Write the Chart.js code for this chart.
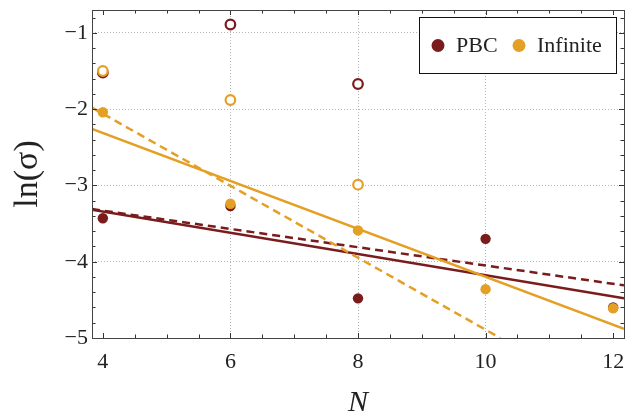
<!DOCTYPE html>
<html>
<head>
<meta charset="utf-8">
<script src="https://cdn.jsdelivr.net/npm/chart.js@4.4.1/dist/chart.umd.min.js"></script>
<style>
  html, body { margin: 0; padding: 0; background: #fff; }
  canvas { display: block; }
</style>
</head>
<body>
<canvas id="c" width="637" height="416"></canvas>
<script>
// ---- data ----
const N = [4, 6, 8, 10, 12];
const pbcFilled = [-3.43, -3.27, -4.48, -3.70, -4.60];
const infFilled = [-2.04, -3.24, -3.59, -4.36, -4.61];
const Nopen = [4, 6, 8];
const pbcOpen = [-1.52, -0.89, -1.67];
const infOpen = [-1.50, -1.88, -2.99];

// fit lines: endpoints
const fitX = [3.83, 12.17];
const pbcSolid = [-3.32, -4.48];
const pbcDashed = [-3.31, -4.31];
const infSolid = [-2.26, -4.88];
const infDashedX = [3.83, 10.23];
const infDashed = [-1.98, -5.0];

const xTicks = [4, 6, 8, 10, 12];
const yTicks = [-5, -4, -3, -2, -1];
const xRange = [3.83, 12.17];
const yRange = [-5, -0.7];

const RED = '#7a1b1c';
const ORANGE = '#e49f25';
const SERIF = '"Liberation Serif", "DejaVu Serif", serif';

const pts = (xs, ys) => xs.map((x, i) => ({x, y: ys[i]}));

const framePlugin = {
  id: 'frame',
  afterDraw(chart) {
    const {ctx, chartArea: a, scales: {x, y}} = chart;
    ctx.save();
    ctx.strokeStyle = '#333';
    ctx.lineWidth = 1;
    const majL = 5, minL = 3.5;
    ctx.beginPath();
    for (let v = 4; v <= 12.001; v += 0.5) {
      const px = Math.round(x.getPixelForValue(v)) + 0.5;
      const L = Math.abs(v - Math.round(v / 2) * 2) < 1e-6 ? majL : minL;
      ctx.moveTo(px, a.bottom); ctx.lineTo(px, a.bottom - L);
      ctx.moveTo(px, a.top); ctx.lineTo(px, a.top + L);
    }
    for (let v = -5; v <= -0.7; v += 0.2) {
      const py = Math.round(y.getPixelForValue(v)) + 0.5;
      const L = Math.abs(v - Math.round(v)) < 1e-6 ? majL : minL;
      ctx.moveTo(a.left, py); ctx.lineTo(a.left + L, py);
      ctx.moveTo(a.right, py); ctx.lineTo(a.right - L, py);
    }
    ctx.stroke();
    ctx.strokeStyle = '#444';
    ctx.strokeRect(Math.round(a.left) + 0.5, Math.round(a.top) + 0.5,
                   Math.round(a.right - a.left), Math.round(a.bottom - a.top));
    // legend
    const bx = 419.5, by = 17.5, bw = 197, bh = 56;
    ctx.fillStyle = '#fff';
    ctx.fillRect(bx, by, bw, bh);
    ctx.strokeStyle = '#111';
    ctx.strokeRect(bx, by, bw, bh);
    const cy = by + bh / 2;
    ctx.fillStyle = RED;
    ctx.beginPath(); ctx.arc(438, cy, 6.5, 0, Math.PI * 2); ctx.fill();
    ctx.fillStyle = ORANGE;
    ctx.beginPath(); ctx.arc(519, cy, 6.5, 0, Math.PI * 2); ctx.fill();
    ctx.fillStyle = '#222';
    ctx.font = '22px ' + SERIF;
    ctx.textBaseline = 'middle';
    ctx.fillText('PBC', 456, cy + 1);
    ctx.fillText('Infinite', 537, cy + 1);
    ctx.restore();
  }
};

const gridColor = (ctx, skip) => {
  const v = ctx.tick ? ctx.tick.value : null;
  return skip.includes(v) ? 'rgba(0,0,0,0)' : '#b5b5b5';
};

new Chart(document.getElementById('c'), {
  type: 'scatter',
  data: {
    datasets: [
      { label: 'Inf open', data: pts(Nopen, infOpen), backgroundColor: '#fff', borderColor: ORANGE, borderWidth: 2.2, pointRadius: 4.8 },
      { label: 'PBC open', data: pts(Nopen, pbcOpen), backgroundColor: '#fff', borderColor: RED, borderWidth: 2.2, pointRadius: 4.8 },
      { label: 'Infinite', data: pts(N, infFilled), backgroundColor: ORANGE, borderColor: ORANGE, borderWidth: 0, pointRadius: 5.2 },
      { label: 'PBC', data: pts(N, pbcFilled), backgroundColor: RED, borderColor: RED, borderWidth: 0, pointRadius: 5.2 },
      { type: 'line', data: pts(fitX, infSolid), borderColor: ORANGE, borderWidth: 2.5, pointRadius: 0, fill: false },
      { type: 'line', data: pts(infDashedX, infDashed), borderColor: ORANGE, borderWidth: 2.5, borderDash: [8, 5], pointRadius: 0, fill: false },
      { type: 'line', data: pts(fitX, pbcSolid), borderColor: RED, borderWidth: 2.5, pointRadius: 0, fill: false },
      { type: 'line', data: pts(fitX, pbcDashed), borderColor: RED, borderWidth: 2.5, borderDash: [8, 5], pointRadius: 0, fill: false }
    ]
  },
  options: {
    responsive: false,
    devicePixelRatio: 1,
    animation: false,
    layout: { padding: { left: 0, top: 10, right: 13, bottom: 0 } },
    plugins: { legend: { display: false }, tooltip: { enabled: false } },
    scales: {
      x: {
        type: 'linear', min: xRange[0], max: xRange[1],
        afterBuildTicks: s => { s.ticks = xTicks.map(v => ({value: v})); },
        afterFit: s => { s.height = 78; s.paddingLeft = 0; s.paddingRight = 0; },
        grid: { drawTicks: false, color: c => gridColor(c, [4, 12]), borderDash: [1, 2], lineWidth: 1 },
        border: { display: false, dash: [1, 2] },
        ticks: { padding: 11, color: '#222', font: { family: SERIF, size: 22 }, callback: v => String(v) },
        title: { display: true, text: 'N', color: '#222', font: { family: SERIF, size: 30, style: 'italic', lineHeight: 1 }, padding: { top: 0, bottom: -2 } }
      },
      y: {
        type: 'linear', min: yRange[0], max: yRange[1],
        afterBuildTicks: s => { s.ticks = yTicks.map(v => ({value: v})); },
        afterFit: s => { s.width = 92; s.paddingTop = 0; s.paddingBottom = 0; },
        grid: { drawTicks: false, color: c => gridColor(c, [-5]), borderDash: [1, 2], lineWidth: 1 },
        border: { display: false, dash: [1, 2] },
        ticks: { padding: 4, color: '#222', font: { family: SERIF, size: 22 }, callback: v => (v < 0 ? '\u2212' + Math.abs(v) : String(v)) },
        title: { display: true, text: 'ln(σ)', color: '#222', font: { family: SERIF, size: 34, lineHeight: 1 }, padding: { top: 11, bottom: 0 } }
      }
    }
  },
  plugins: [framePlugin]
});
</script>
</body>
</html>
